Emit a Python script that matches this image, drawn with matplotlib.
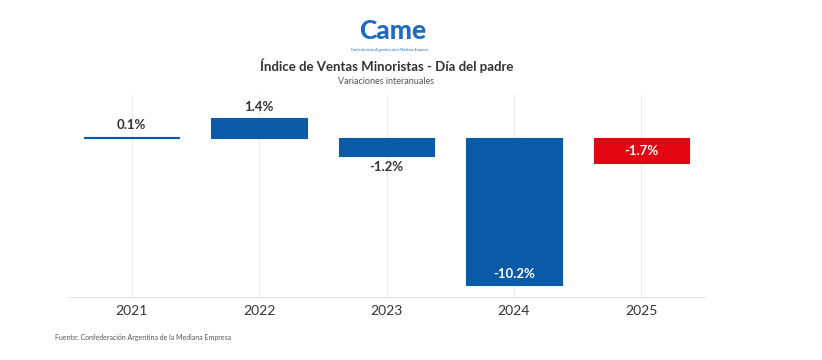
import matplotlib
matplotlib.use("Agg")
import matplotlib.pyplot as plt

years = ["2021", "2022", "2023", "2024", "2025"]
values = [0.1, 1.4, -1.2, -10.2, -1.7]
labels = ["0.1%", "1.4%", "-1.2%", "-10.2%", "-1.7%"]

BLUE = "#0A5AA8"
RED = "#E20613"
DARK = "#333333"

plt.rcParams["font.family"] = ["Lato", "DejaVu Sans"]

fig = plt.figure(figsize=(8.22, 3.6), dpi=100)
ax = fig.add_axes([0.0827, 0.175, 0.775, 0.561])

colors = [BLUE] * 4 + [RED]
x = range(len(years))
ax.bar(x, values, width=0.75, color=colors, edgecolor=colors,
       linewidth=0.8, zorder=3)

for i, (v, lab) in enumerate(zip(values, labels)):
    if i == 0 or i == 1:
        ax.annotate(lab, (i, v), xytext=(0, 4), textcoords="offset points",
                    ha="center", va="bottom", fontsize=9.5, fontweight="bold", color=DARK)
    elif i == 2:
        ax.annotate(lab, (i, v), xytext=(0, -4), textcoords="offset points",
                    ha="center", va="top", fontsize=9.5, fontweight="bold", color=DARK)
    elif i == 3:
        ax.annotate(lab, (i, v), xytext=(0, 4), textcoords="offset points",
                    ha="center", va="bottom", fontsize=9.5, fontweight="bold", color="white")
    else:
        ax.annotate(lab, (i, v / 2), ha="center", va="center",
                    fontsize=9.5, fontweight="bold", color="white")

ax.set_xlim(-0.5, 4.5)
ax.set_ylim(-11, 3)
ax.set_xticks(list(x))
ax.set_xticklabels(years, fontsize=10, color=DARK)
ax.set_yticks([])
ax.tick_params(axis="x", length=0, pad=6)
ax.grid(axis="x", color="#ebebeb", linewidth=0.8, zorder=0)
for s in ["top", "left", "right"]:
    ax.spines[s].set_visible(False)
ax.spines["bottom"].set_color("#e3e3e3")

# logo (text stand-in)
fig.text(0.478, 0.915, "Came", ha="center", va="center", fontsize=19,
         fontweight="black", color="#1F6BC0")
fig.text(0.474, 0.862, "Confederación Argentina de la Mediana Empresa", ha="center",
         va="center", fontsize=2.6, color="#1F6BC0")

fig.text(0.470, 0.818, "Índice de Ventas Minoristas - Día del padre", ha="center",
         va="center", fontsize=9.5, fontweight="bold", color=DARK)
fig.text(0.470, 0.775, "Variaciones interanuales", ha="center", va="center",
         fontsize=6.5, color="#555555")
fig.text(0.067, 0.063, "Fuente: Confederación Argentina de la Mediana Empresa",
         ha="left", va="center", fontsize=5, color="#555555")

plt.savefig("out.png", dpi=100)
